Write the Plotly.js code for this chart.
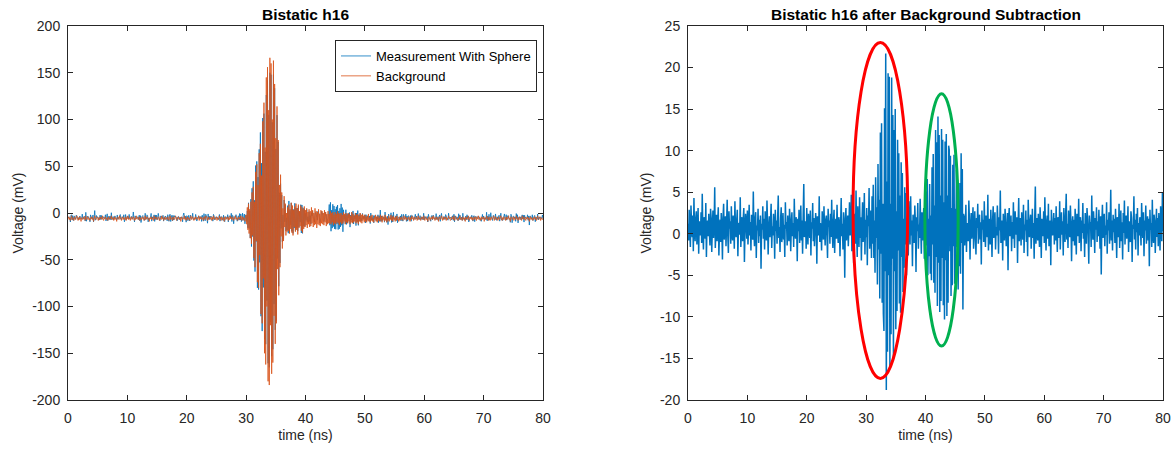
<!DOCTYPE html>
<html>
<head>
<meta charset="utf-8">
<script src="https://cdn.plot.ly/plotly-3.0.1.min.js"></script>
<style>html,body{margin:0;padding:0;background:#fff;}#chart{width:1175px;height:450px;}</style>
</head>
<body>
<div id="chart"></div>
<script>
// Sampling step of the recorded waveforms (ns)
const sampleStepNs = 0.1;

// Background trace (mV), t = 0 .. 80 ns
const background = [
-6,-4,-7,-5,-8,-6,-3,-7,-5,-6,-8,-4,-6,-7,-5,-3,-6,-8,-5,-7,-4,-6,-9,-5,-6,
-7,-4,-6,-5,-8,-3,-6,-7,-5,-4,-7,-6,-8,-5,-6,-4,-7,-5,-9,-6,-3,-6,-7,-5,-4,
-6,-8,-5,-7,-4,-6,-5,-7,-3,-6,-8,-5,-6,-4,-7,-6,-5,-8,-4,-6,-7,-5,-6,-3,-7,
-5,-6,-8,-4,-7,-5,-6,-9,-5,-4,-6,-7,-3,-6,-5,-8,-6,-4,-7,-5,-6,-7,-4,-8,-5,
-6,-3,-7,-5,-6,-8,-4,-6,-7,-5,-4,-6,-8,-5,-7,-3,-6,-5,-7,-6,-4,-8,-5,-6,-7,
-4,-6,-5,-8,-6,-3,-7,-5,-6,-4,-7,-6,-9,-5,-6,-4,-7,-5,-6,-8,-3,-6,-5,-7,-4,
-6,-7,-5,-4,-8,-6,-5,-7,-3,-6,-5,-8,-6,-4,-7,-5,-6,-7,-4,-6,-8,-5,-3,-7,-6,
-5,-8,-4,-6,-7,-5,-3,-6,-8,-5,-6,-4,-7,-6,-5,-9,-4,-6,-7,-5,-6,-3,-7,-5,-8,
-6,-4,-7,-5,-6,-8,-5,-3,-7,-6,-4,-6,-8,-5,-7,-4,-6,-5,-7,-6,-3,-8,-5,-6,-4,
-7,-5,-6,-8,-4,-6,-7,-3,-5,-6,-8,-4,-7,-5,-6,-6,-4,-8,-5,-7,-3,-6,-5,-7,-6,
-4,-8,-5,-6,-7,-3,-6,-5,-8,-4,-7,-6,-5,-9,-4,-6,-7,-5,-6,-4,-8,-5,-7,-3,-6,
-5,-7,-4,-6,-8,-5,-6,-3,-7,-5,-6,-8,-4,-6,-5,-7,-3,-6,-8,-4,-7,-5,-6,-9,-4,
-2,-12,6,-18,10,-22,4,-27,12,-33,
22,-24,28,-48,12,-58,44,-30,52,-74,
30,-80,64,-45,74,-108,40,-118,98,-70,
118,-150,70,-162,145,-100,156,-180,110,-184,
166,-120,160,-172,100,-160,163,-110,138,-140,
80,-118,114,-60,78,-88,30,-58,41,-25,
22,-38,5,-30,18,-15,10,-24,0,-20,
6,-19,9,-22,4,-17,11,-21,8,-24,
3,-15,7,-20,10,-18,5,-23,9,-16,
2,-14,8,-19,6,-21,4,-17,7,-15,
3,-13,5,-16,1,-12,4,-15,2,-14,
6,-11,3,-15,0,-13,5,-12,2,-16,
1,-12,4,-13,-1,-14,3,-11,2,-12,
0,-13,3,-10,1,-14,-1,-12,2,-11,
-1,-11,2,-12,0,-10,1,-13,-2,-11,
1,-12,-1,-10,2,-11,0,-13,-1,-10,
0,-12,-2,-11,1,-9,-1,-12,0,-10,
-2,-11,0,-9,-1,-12,-3,-10,1,-11,
-1,-10,-3,-9,0,-11,-2,-10,-1,-12,
-3,-9,0,-10,-2,-11,-1,-8,-3,-10,
-2,-9,-4,-10,-3,-8,-1,-9,-5,-10,
-3,-8,-2,-9,-6,-10,-4,-7,-2,-9,
-4,-10,-3,-8,-5,-9,-2,-8,-4,-10,
-3,-7,-5,-9,-2,-8,-4,-10,-6,-8,
-3,-9,-5,-7,-2,-8,-4,-9,-3,-7,
-5,-9,-4,-8,-3,-7,-6,-9,-4,-8,
-5,-7,-4,-6,-8,-5,-3,-7,-6,-4,-8,-5,-6,-7,-4,-6,-9,-5,-7,-3,-6,-5,-8,-4,-6,
-7,-5,-4,-8,-6,-3,-7,-5,-6,-8,-4,-6,-5,-7,-3,-6,-8,-5,-4,-7,-6,-9,-5,-4,-6,
-8,-5,-6,-4,-7,-3,-6,-5,-8,-6,-4,-7,-5,-6,-9,-4,-6,-7,-5,-3,-6,-8,-4,-7,-5,
-6,-4,-8,-5,-7,-6,-3,-6,-5,-8,-7,-4,-6,-5,-7,-3,-8,-6,-5,-4,-7,-6,-8,-5,-6,
-3,-7,-5,-6,-8,-4,-6,-7,-5,-9,-4,-6,-5,-7,-3,-6,-8,-5,-6,-4,-7,-5,-8,-6,-4,
-7,-6,-4,-8,-5,-6,-3,-7,-5,-6,-8,-4,-7,-5,-6,-4,-9,-5,-6,-7,-3,-6,-5,-8,-4,
-6,-8,-5,-4,-7,-6,-5,-3,-8,-6,-4,-7,-5,-6,-8,-4,-6,-7,-5,-3,-6,-8,-5,-7,-4,
-5,-6,-8,-4,-7,-5,-6,-3,-7,-6,-9,-4,-5,-7,-6,-4,-8,-5,-6,-7,-3,-6,-5,-8,-6,
-4,-7,-5,-6,-8,-3,-6,-5,-7,-4,-6,-8,-5,-6,-4,-7,-5,-9,-6,-4,-7,-5,-6,-8,-5,
-6,-4,-7,-5,-8,-6,-3,-6,-7,-5,-4,-8,-6,-5,-7,-6
];

// Signal after background subtraction (mV), t = 0 .. 80 ns
const subtracted = [
1.2,-0.8,2.9,0.3,-1.6,3.4,1.1,-0.4,2.2,-2.1,4.3,0.6,-0.9,1.8,2.7,-1.3,0.2,3.1,-2.4,1.5,0.8,-0.2,2.6,-1.1,4.8,
0.4,-1.9,2.0,1.3,-0.6,3.7,-2.8,0.9,1.6,-0.3,2.4,0.1,-1.4,3.0,1.9,-2.2,0.7,2.8,-0.5,1.0,5.6,-1.7,0.5,2.3,-0.9,
1.4,3.2,-2.6,0.2,1.7,-1.0,2.5,0.8,-3.1,1.9,3.6,-0.7,0.4,2.1,-1.5,1.2,4.1,-0.2,-2.3,2.7,0.6,1.5,-1.2,3.3,0.0,
-0.8,2.2,1.0,-1.8,3.9,0.5,-0.4,1.6,2.9,-2.7,0.9,1.3,-0.1,4.4,-1.6,0.7,2.0,-0.9,1.8,3.1,-3.4,0.3,2.4,1.1,-0.6,
2.8,-1.3,0.6,3.5,-0.2,1.4,-2.0,2.3,0.8,-0.7,5.1,0.2,-1.5,1.9,2.6,-2.9,1.0,0.4,3.0,-1.1,1.7,-0.3,2.2,-4.2,1.2,
0.5,3.3,-0.6,1.8,-1.9,2.7,0.1,-0.8,4.0,1.3,-2.5,0.7,2.1,-0.4,1.5,3.6,-1.7,0.9,-0.2,2.4,1.0,-3.0,2.9,0.3,1.6,
-1.2,2.0,4.6,-0.5,0.8,-2.2,1.9,3.2,-1.0,0.4,2.5,-0.7,1.1,-2.8,3.8,0.6,1.4,-1.4,2.2,0.0,-0.9,3.0,1.7,-2.1,0.9,
2.6,-0.3,1.3,-1.6,4.2,0.7,-0.6,2.0,1.2,-3.3,1.8,0.3,2.9,-1.1,0.5,3.4,-0.8,1.6,-2.4,2.3,6.0,-0.4,0.8,1.5,-1.8,
3.1,0.2,-1.3,2.4,1.0,-0.5,2.8,-2.6,1.4,0.6,3.7,-0.9,1.9,-1.5,0.3,2.5,1.2,-3.6,2.1,0.8,-0.2,4.5,-1.0,1.3,0.4,
-2.0,2.7,1.1,-0.7,3.3,0.5,-1.4,1.7,2.2,-0.1,-2.9,3.0,0.9,1.6,-1.2,2.4,-0.4,4.1,0.2,-1.7,1.5,2.9,-2.3,0.7,1.8,
-0.6,3.5,0.3,-1.1,2.0,1.4,-2.7,0.9,4.3,-0.3,1.2,-1.9,2.6,0.5,-5.3,1.8,3.1,-0.8,0.6,2.2,-1.5,1.0,3.8,-0.2,0.4,
4.7,-2.1,1.6,3.0,-3.5,0.8,2.4,-1.2,5.2,0.1,-2.8,3.3,1.0,-1.6,4.4,-0.5,2.0,-3.2,1.3,3.8,
-1.0,0.6,4.9,-2.5,1.7,-0.4,3.1,-3.8,2.2,0.9,5.5,-1.8,0.3,2.8,-2.9,
4.5,-1.2,5.9,-2.9,1.6,-4.7,6.8,-0.5,3.2,-6.1,
8.4,-1.9,4.1,-7.8,12.2,-2.4,13.3,-8.3,3.6,-9.6,
-11.7,15.1,-4.5,21.7,-18.8,6.3,-14.2,19.3,-5.0,18.9,
-16.0,3.6,-12.1,18.8,-3.0,14.3,-15.0,12.5,-4.5,15.0,
-11.5,2.7,-9.3,11.3,-2.0,9.7,-8.4,4.6,-9.5,8.6,
-2.8,7.3,-7.0,1.8,-4.1,5.6,-1.3,4.9,-5.0,1.8,
1.9,-2.6,3.9,0.4,-1.3,4.5,-0.2,1.6,-3.9,2.3,0.8,-1.1,3.4,1.2,-4.6,
2.0,0.3,3.7,-1.8,1.1,-0.5,4.2,0.9,-2.4,2.6,-0.8,1.5,3.1,-3.0,0.6,
-3.2,5.1,-1.4,6.6,-5.0,1.8,-2.7,6.0,-4.8,2.2,
-5.6,8.0,-1.3,9.6,-5.9,3.4,-7.1,12.5,-2.8,11.0,
-8.7,14.1,-3.5,11.9,-9.4,4.6,-8.1,12.6,-2.9,11.3,
-8.6,3.8,-10.3,11.1,-3.2,12.0,-9.9,4.6,-8.3,10.6,
10.1,-2.1,9.4,-7.5,3.1,-6.2,8.3,-1.5,9.5,-6.0,
3.0,-5.4,7.7,-1.6,6.5,-6.7,2.2,-3.9,6.1,-4.8,
9.7,-1.1,7.8,-9.1,2.4,
2.1,-1.4,0.6,3.5,-2.2,1.3,0.2,-0.9,4.0,1.6,-3.1,0.8,2.5,-0.6,1.1,3.2,-1.8,0.4,2.7,-0.3,-2.5,1.9,0.7,3.6,-1.2,
0.9,2.3,-0.7,1.4,-3.7,2.8,0.5,1.7,-1.0,3.9,0.1,-1.6,2.2,1.0,-0.4,4.7,-2.0,0.6,1.8,-1.3,2.9,0.3,-2.8,1.5,3.3,
-0.5,1.2,2.6,-1.9,0.8,-0.2,3.4,1.1,-2.4,2.0,0.4,5.2,-1.1,0.9,1.6,-3.2,2.4,0.7,-0.8,3.0,1.3,-1.5,0.2,2.5,-4.4,
1.8,3.1,-0.3,0.6,2.2,-2.1,1.4,-0.6,3.8,0.5,-1.7,2.7,1.0,-0.1,2.0,-3.5,1.2,4.3,-0.9,0.8,1.9,-1.4,2.6,0.3,-0.7,
3.5,-2.3,1.1,0.4,2.8,-1.0,1.7,-2.7,4.1,0.9,-0.4,1.5,2.3,-1.8,0.6,3.0,-0.5,1.3,-3.0,2.1,5.7,-1.2,0.7,1.9,-0.8,
2.4,0.2,-1.6,3.2,1.0,-2.9,1.8,0.5,-0.3,2.7,-1.1,4.4,0.8,-2.0,1.4,2.2,-0.6,3.6,-1.5,0.3,1.6,-3.8,2.9,1.2,-0.2,
0.7,2.5,-1.3,1.9,-0.8,3.3,0.4,-2.2,2.0,1.1,-0.5,3.9,-1.9,0.6,2.6,-0.1,1.5,-2.6,3.1,0.9,-1.0,2.3,4.8,-0.7,1.2,
-1.7,2.8,0.5,-0.4,3.4,1.3,-3.3,1.0,2.1,-0.9,1.7,-1.4,3.0,0.2,-2.5,2.4,1.4,-0.3,4.2,-1.1,0.8,2.0,-2.1,1.6,0.1,
3.7,-0.6,1.2,-2.8,2.5,0.7,-1.2,3.1,1.8,-0.2,-3.6,2.2,0.9,1.4,-1.6,4.6,0.3,-0.7,2.7,1.1,-2.3,1.9,0.5,3.2,-1.0,
1.5,-0.3,2.9,0.6,-1.8,2.1,-4.9,1.3,3.5,-0.5,0.8,2.4,-1.5,1.0,-0.1,3.8,-2.4,1.7,0.4,2.6,-1.2,0.9,5.3,-0.8,1.6,
-2.0,2.3,0.2,1.8,-1.1,3.0,0.7,-2.9,2.0,1.2,-0.4,3.6,-1.7,0.5,2.8,-0.9,1.4,-3.1,2.5,0.1,4.0,-1.3,1.1,2.2,-0.6,
0.8,3.3,-2.2,1.5,0.3,-1.0,2.7,1.9,-3.4,1.1,0.6,4.5,-0.7,1.7,-1.9,2.4,0.2,3.1,-2.6,1.3,-0.2,2.0,0.9,-1.4,3.7,
1.0,-0.5,2.6,-2.7,1.6,0.4,3.4,-1.2,0.7,2.1,-0.8,1.8,-3.9,2.9,0.5,1.3,-1.6,4.1,0.0,-1.1,2.3,1.4,-2.3,0.8,3.0,
-0.4,1.9,-1.5,2.5,0.6,-2.0,3.3,1.0,-0.9,4.9,0.3
];

// Measurement with sphere = background + subtracted signal (that is what the right panel shows)
const nSamples = Math.min(background.length, subtracted.length);
const measurement = [];
for (let i = 0; i < nSamples; i++) measurement.push(Math.round((background[i] + subtracted[i]) * 10) / 10);
const timeNs = [];
for (let i = 0; i < nSamples; i++) timeNs.push(Math.round(i * sampleStepNs * 10) / 10);

const xTicks = [0, 10, 20, 30, 40, 50, 60, 70, 80];
const yTicksLeft = [-200, -150, -100, -50, 0, 50, 100, 150, 200];
const yTicksRight = [-20, -15, -10, -5, 0, 5, 10, 15, 20, 25];
const seriesNames = ['Measurement With Sphere', 'Background'];
const titles = ['Bistatic h16', 'Bistatic h16 after Background Subtraction'];

const BLUE = '#0072BD', ORANGE = '#D95319';
const FONT = 'Liberation Sans, Arial, Helvetica, sans-serif';
const AX = '#262626';

const traces = [
  {x: timeNs.slice(0, nSamples), y: measurement, type: 'scatter', mode: 'lines', name: seriesNames[0],
   line: {color: BLUE, width: 0.8, simplify: false}, xaxis: 'x', yaxis: 'y', hoverinfo: 'skip'},
  {x: timeNs.slice(0, nSamples), y: background.slice(0, nSamples), type: 'scatter', mode: 'lines', name: seriesNames[1],
   line: {color: ORANGE, width: 0.8, simplify: false}, xaxis: 'x', yaxis: 'y', hoverinfo: 'skip'},
  {x: timeNs.slice(0, nSamples), y: subtracted.slice(0, nSamples), type: 'scatter', mode: 'lines', name: 'Subtracted',
   showlegend: false, line: {color: BLUE, width: 1.5, simplify: false}, xaxis: 'x2', yaxis: 'y2', hoverinfo: 'skip'}
];

function xAxis(domain, anchor) {
  return {domain: domain, anchor: anchor, range: [0, 80], tickvals: xTicks, ticktext: xTicks.map(String),
    ticks: 'inside', ticklen: 5, tickcolor: AX, tickwidth: 1, showline: true, linecolor: AX, linewidth: 1,
    mirror: 'ticks', showgrid: false, zeroline: false, tickfont: {family: FONT, size: 14, color: AX},
    ticklabelstandoff: 5,
    title: {text: 'time (ns)', font: {family: FONT, size: 14, color: AX}, standoff: 5}};
}
function yAxis(domain, anchor, range, ticks) {
  return {domain: domain, anchor: anchor, range: range, tickvals: ticks, ticktext: ticks.map(String),
    ticks: 'inside', ticklen: 5, tickcolor: AX, tickwidth: 1, showline: true, linecolor: AX, linewidth: 1,
    mirror: 'ticks', showgrid: false, zeroline: false, tickfont: {family: FONT, size: 14, color: AX},
    ticklabelstandoff: 4,
    title: {text: 'Voltage (mV)', font: {family: FONT, size: 14, color: AX}, standoff: 5}};
}

const yDom = [50 / 450, 424 / 450];
const layout = {
  width: 1175, height: 450,
  margin: {l: 0, r: 0, t: 0, b: 0},
  paper_bgcolor: '#fff', plot_bgcolor: '#fff',
  showlegend: true,
  xaxis: xAxis([68 / 1175, 543 / 1175], 'y'),
  yaxis: yAxis(yDom, 'x', [-200, 200], yTicksLeft),
  xaxis2: xAxis([688 / 1175, 1163 / 1175], 'y2'),
  yaxis2: yAxis(yDom, 'x2', [-20, 25], yTicksRight),
  legend: {x: 537 / 1175, xanchor: 'right', y: 1 - 40 / 450, yanchor: 'top',
    bgcolor: '#fff', bordercolor: AX, borderwidth: 1, font: {family: FONT, size: 13, color: '#000'},
    tracegroupgap: 0, itemwidth: 30},
  annotations: [
    {text: '<b>' + titles[0] + '</b>', xref: 'paper', yref: 'paper', x: 305.5 / 1175, y: 1 - 15 / 450,
     xanchor: 'center', yanchor: 'middle', showarrow: false, font: {family: FONT, size: 15.5, color: '#000'}},
    {text: '<b>' + titles[1] + '</b>', xref: 'paper', yref: 'paper', x: 925.5 / 1175, y: 1 - 15 / 450,
     xanchor: 'center', yanchor: 'middle', showarrow: false, font: {family: FONT, size: 15.5, color: '#000'}}
  ],
  shapes: [
    {type: 'circle', xref: 'x2', yref: 'y2', x0: 27.8, x1: 37.0, y0: -17.4, y1: 23.0,
     line: {color: '#FF0000', width: 3}},
    {type: 'circle', xref: 'x2', yref: 'y2', x0: 39.9, x1: 45.5, y0: -13.5, y1: 16.85,
     line: {color: '#00B050', width: 3}}
  ]
};

Plotly.newPlot('chart', traces, layout, {staticPlot: true, displayModeBar: false});
</script>
</body>
</html>
